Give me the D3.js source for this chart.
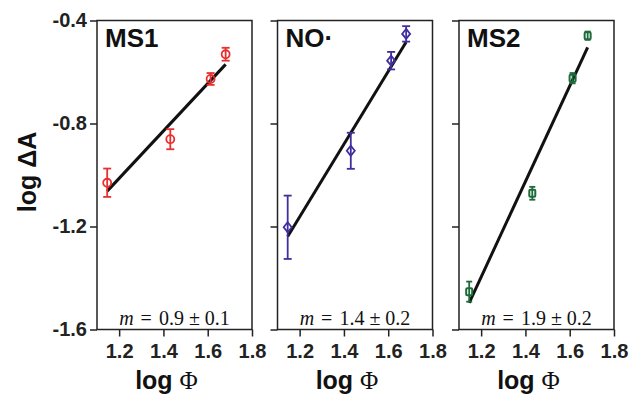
<!DOCTYPE html>
<html><head><meta charset="utf-8">
<script src="https://cdn.jsdelivr.net/npm/d3@7"></script>
<style>body{margin:0;background:#fff}svg{display:block}</style>
</head><body>
<svg id="c" width="630" height="394"></svg>
<script>
// ---- data ----
const logPhi = [1.146, 1.431, 1.613, 1.681];
const panelNames = ["MS1", "NO\u00B7", "MS2"];
const ms1Y = [-1.030, -0.861, -0.627, -0.531];
const ms1Err = [0.055, 0.039, 0.023, 0.025];
const noY = [-1.203, -0.906, -0.556, -0.452];
const noErr = [0.123, 0.070, 0.034, 0.030];
const ms2Y = [-1.453, -1.071, -0.624, -0.459];
const ms2Err = [0.039, 0.025, 0.020, 0.016];
const fitSlopes = [0.92, 1.412, 1.854];
const fitIntercepts = [-2.117, -2.857, -3.621];
const fitRange = [1.146, 1.681];
const slopeVals = ["0.9", "1.4", "1.9"];
const slopeErrs = ["0.1", "0.2", "0.2"];
const xTicks = [1.2, 1.4, 1.6, 1.8];
const yTicks = [-0.4, -0.8, -1.2, -1.6];

// ---- style ----
const colors = ["#e8302f", "#3f2f9e", "#1e6b3a"];
const markers = ["circle", "diamond", "square"];
const seriesY = [ms1Y, noY, ms2Y];
const seriesErr = [ms1Err, noErr, ms2Err];
const panelLeft = [97, 277.5, 459];
const panelW = 155;
const plotTop = 20.5, plotBottom = 329.5;
const sans = "'Liberation Sans', Arial, Helvetica, sans-serif";
const serif = "'Liberation Serif', 'DejaVu Serif', serif";

const svg = d3.select("#c");
const y = d3.scaleLinear().domain([-1.6, -0.4]).range([plotBottom, plotTop]);

panelNames.forEach((name, i) => {
  const x = d3.scaleLinear().domain([1.1, 1.8]).range([panelLeft[i], panelLeft[i] + panelW]);
  const g = svg.append("g");

  // axes
  const xa = g.append("g").attr("transform", `translate(0,${plotBottom})`)
    .call(d3.axisBottom(x).tickValues(xTicks).tickFormat(d3.format(".1f")).tickSize(7).tickSizeOuter(0));
  xa.select(".domain").remove();
  xa.selectAll("line").attr("stroke", "#222").attr("stroke-width", 1.5);
  xa.selectAll("text").attr("font-family", sans).attr("font-weight", "bold").attr("font-size", 20)
    .attr("fill", "#222").attr("dy", "0.95em").attr("y", 9);

  const ya = g.append("g").attr("transform", `translate(${panelLeft[i]},0)`)
    .call(d3.axisLeft(y).tickValues(yTicks).tickFormat(d => i === 0 ? d.toFixed(1) : "").tickSize(7).tickSizeOuter(0));
  ya.select(".domain").remove();
  ya.selectAll("line").attr("stroke", "#222").attr("stroke-width", 1.5);
  ya.selectAll("text").attr("font-family", sans).attr("font-weight", "bold").attr("font-size", 20)
    .attr("fill", "#222").attr("x", -10);

  // frame
  g.append("rect").attr("x", x.range()[0]).attr("y", plotTop)
    .attr("width", panelW).attr("height", plotBottom - plotTop)
    .attr("fill", "none").attr("stroke", "#222").attr("stroke-width", 1.5);

  // fit line
  g.append("line")
    .attr("x1", x(fitRange[0])).attr("y1", y(fitSlopes[i] * fitRange[0] + fitIntercepts[i]))
    .attr("x2", x(fitRange[1])).attr("y2", y(fitSlopes[i] * fitRange[1] + fitIntercepts[i]))
    .attr("stroke", "#111").attr("stroke-width", 3);

  // data
  const data = logPhi.map((v, k) => ({ x: v, y: seriesY[i][k], e: seriesErr[i][k] }));
  const col = colors[i];
  const cap = i === 2 ? 3 : 4;
  const pts = g.selectAll(".pt").data(data).enter().append("g");
  pts.append("line").attr("x1", d => x(d.x)).attr("x2", d => x(d.x))
    .attr("y1", d => y(d.y - d.e)).attr("y2", d => y(d.y + d.e))
    .attr("stroke", col).attr("stroke-width", 1.8);
  pts.append("line").attr("x1", d => x(d.x) - cap).attr("x2", d => x(d.x) + cap)
    .attr("y1", d => y(d.y - d.e)).attr("y2", d => y(d.y - d.e))
    .attr("stroke", col).attr("stroke-width", 1.8);
  pts.append("line").attr("x1", d => x(d.x) - cap).attr("x2", d => x(d.x) + cap)
    .attr("y1", d => y(d.y + d.e)).attr("y2", d => y(d.y + d.e))
    .attr("stroke", col).attr("stroke-width", 1.8);
  if (markers[i] === "circle") {
    pts.append("circle").attr("cx", d => x(d.x)).attr("cy", d => y(d.y)).attr("r", 4)
      .attr("fill", "none").attr("stroke", col).attr("stroke-width", 1.8);
  } else if (markers[i] === "diamond") {
    pts.append("path").attr("transform", d => `translate(${x(d.x)},${y(d.y)})`)
      .attr("d", "M0,-5L4,0L0,5L-4,0Z")
      .attr("fill", "none").attr("stroke", col).attr("stroke-width", 1.8);
  } else {
    pts.append("rect").attr("x", d => x(d.x) - 3).attr("y", d => y(d.y) - 3.5)
      .attr("width", 6).attr("height", 7).attr("rx", 1)
      .attr("fill", "none").attr("stroke", col).attr("stroke-width", 2);
  }

  // panel title
  g.append("text").attr("x", panelLeft[i] + 8).attr("y", 47)
    .attr("font-family", sans).attr("font-weight", "bold").attr("font-size", 26)
    .attr("fill", "#111").text(name);

  // slope label (LaTeX-like spacing)
  const t = g.append("text").attr("x", panelLeft[i] + panelW / 2).attr("y", 325)
    .attr("text-anchor", "middle").attr("font-family", serif).attr("font-size", 20).attr("fill", "#111");
  t.append("tspan").attr("font-style", "italic").text("m");
  t.append("tspan").attr("dx", 7).text("=");
  t.append("tspan").attr("dx", 7).text(slopeVals[i]);
  t.append("tspan").attr("dx", 5).text("\u00B1");
  t.append("tspan").attr("dx", 5).text(slopeErrs[i]);

  // x axis title
  const xt = g.append("text").attr("x", panelLeft[i] + panelW / 2 - 8).attr("y", 389)
    .attr("text-anchor", "middle").attr("font-size", 25).attr("fill", "#111");
  xt.append("tspan").attr("font-family", sans).attr("font-weight", "bold").text("log ");
  xt.append("tspan").attr("font-family", serif).text("\u03A6");
});

// y axis title
svg.append("text").attr("transform", "translate(36,172) rotate(-90)")
  .attr("text-anchor", "middle").attr("font-family", sans).attr("font-weight", "bold")
  .attr("font-size", 25).attr("fill", "#111").text("log \u0394A");
</script>
</body></html>
